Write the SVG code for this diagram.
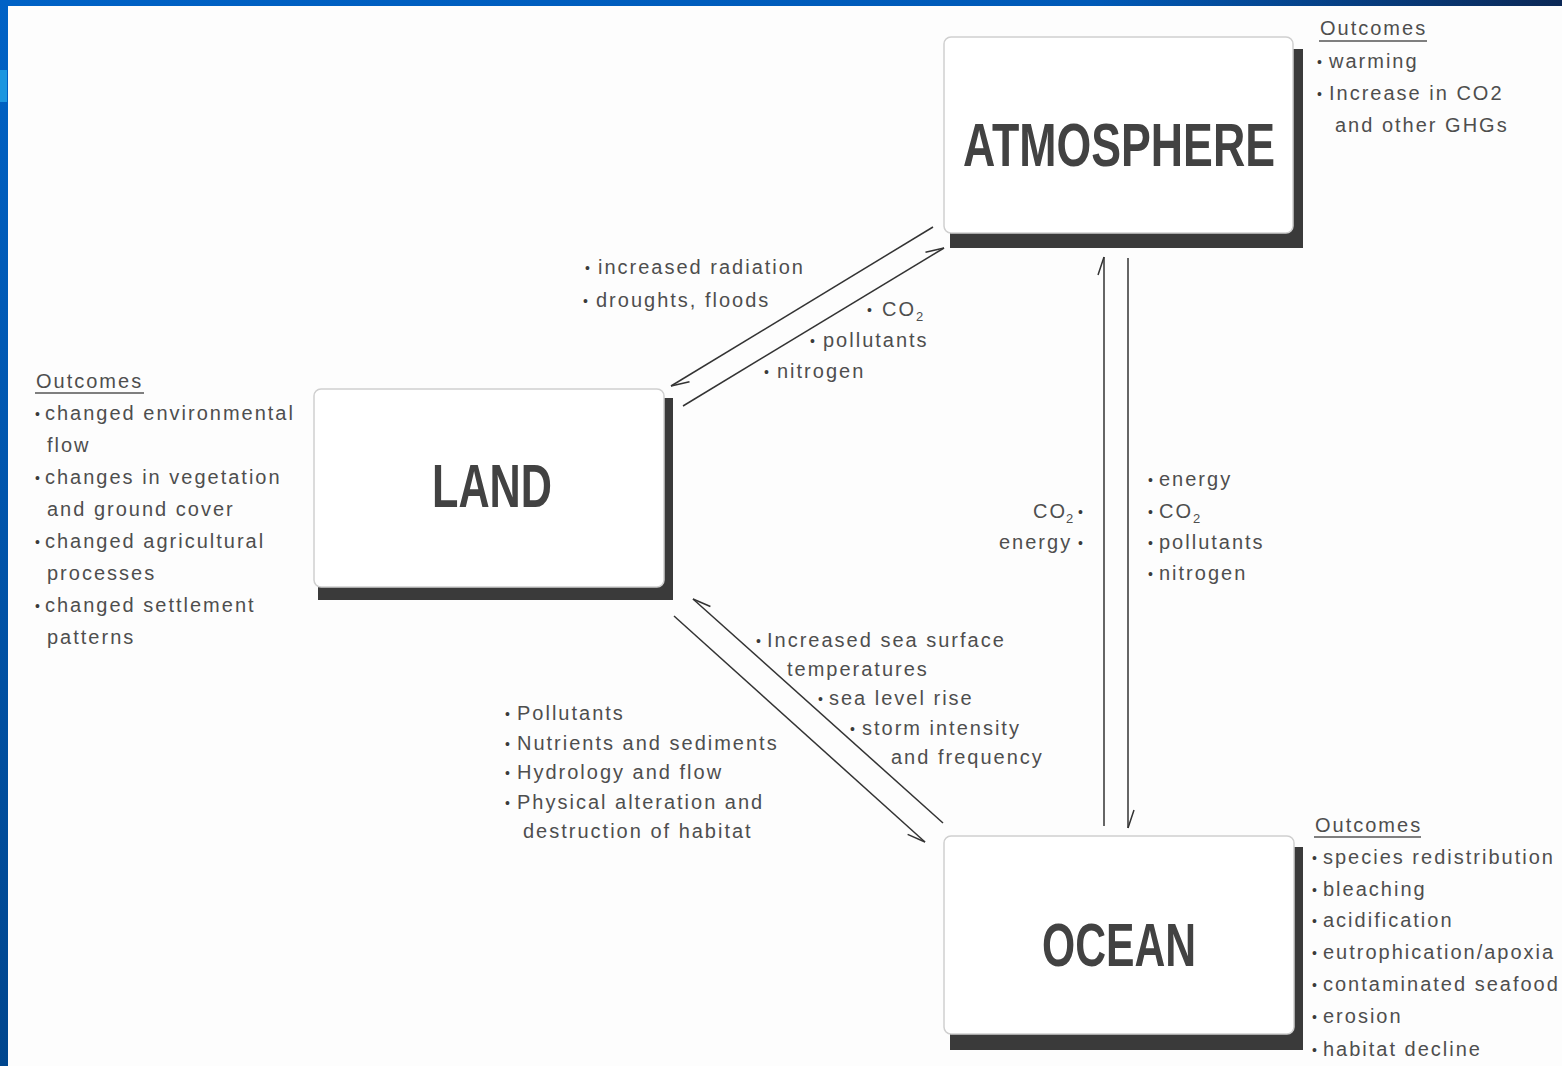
<svg xmlns="http://www.w3.org/2000/svg" width="1562" height="1066" viewBox="0 0 1562 1066">
<style>
.t{font-family:"Liberation Sans",Arial,sans-serif;font-size:20px;letter-spacing:2px;fill:#4e4e4e}
.s{font-size:13px;letter-spacing:0}
.b{font-size:14px;letter-spacing:0;fill:#3a3a3a;baseline-shift:1.5px}
.title{font-family:"Liberation Sans",Arial,sans-serif;font-size:61px;font-weight:bold;fill:#424242}
.box{fill:#ffffff;stroke:#cfcfcf;stroke-width:1.5}
.shadow{fill:#3a3a3a}
.ul{stroke:#555;stroke-width:1.6}
.c{stroke:#333;stroke-width:1.5;fill:none}
</style>
<defs>
<linearGradient id="gtop" x1="0" y1="0" x2="1" y2="0">
<stop offset="0" stop-color="#0062c6"/>
<stop offset="0.7" stop-color="#005ab8"/>
<stop offset="1" stop-color="#0b2856"/>
</linearGradient>
<linearGradient id="gleft" x1="0" y1="0" x2="0" y2="1">
<stop offset="0" stop-color="#0062c6"/>
<stop offset="1" stop-color="#00468e"/>
</linearGradient>
<marker id="hl" viewBox="-22 -10 24 20" refX="0" refY="0" markerWidth="24" markerHeight="20" markerUnits="userSpaceOnUse" orient="auto">
<path d="M0,0 L-18,-6" stroke="#333" stroke-width="1.5" fill="none"/>
</marker>
<marker id="hr" viewBox="-22 -10 24 20" refX="0" refY="0" markerWidth="24" markerHeight="20" markerUnits="userSpaceOnUse" orient="auto">
<path d="M0,0 L-18,6" stroke="#333" stroke-width="1.5" fill="none"/>
</marker>
</defs>
<rect width="1562" height="1066" fill="#fdfdfd"/>
<rect x="0" y="0" width="1562" height="6" fill="url(#gtop)"/>
<rect x="0" y="0" width="8" height="1066" fill="url(#gleft)"/>
<rect x="0" y="70" width="7" height="32" fill="#1c96e0"/>
<g id="connectors">
<path class="c" d="M933,227 L671,386" marker-end="url(#hl)"/>
<path class="c" d="M683,406 L944,248" marker-end="url(#hl)"/>
<path class="c" d="M1104,826 L1104,257" marker-end="url(#hl)"/>
<path class="c" d="M1128,258 L1128,828" marker-end="url(#hl)"/>
<path class="c" d="M943,823 L693,599" marker-end="url(#hr)"/>
<path class="c" d="M674,616 L925,842" marker-end="url(#hr)"/>
</g>
<g id="node-atmosphere">
<rect class="shadow" x="950" y="49" width="353" height="199"/>
<rect class="box" x="944" y="37" width="349" height="196" rx="7"/>
<text class="title" x="963" y="166" textLength="312" lengthAdjust="spacingAndGlyphs">ATMOSPHERE</text>
</g>
<g id="node-land">
<rect class="shadow" x="318" y="398" width="355" height="202"/>
<rect class="box" x="314" y="389" width="350" height="198" rx="7"/>
<text class="title" x="432" y="507" textLength="120" lengthAdjust="spacingAndGlyphs">LAND</text>
</g>
<g id="node-ocean">
<rect class="shadow" x="950" y="847" width="353" height="203"/>
<rect class="box" x="944" y="836" width="350" height="198" rx="7"/>
<text class="title" x="1042" y="966" textLength="154" lengthAdjust="spacingAndGlyphs">OCEAN</text>
</g>
<g id="outcomes-atmosphere">
<text class="t" x="1320" y="35">Outcomes</text>
<line class="ul" x1="1319" y1="41" x2="1427" y2="41"/>
<text class="t" y="68"><tspan class="b" x="1317">•</tspan><tspan x="1329">warming</tspan></text>
<text class="t" y="100"><tspan class="b" x="1317">•</tspan><tspan x="1329">Increase in CO2</tspan></text>
<text class="t" x="1335" y="132">and other GHGs</text>
</g>
<g id="outcomes-land">
<text class="t" x="36" y="388">Outcomes</text>
<line class="ul" x1="35" y1="393" x2="144" y2="393"/>
<text class="t" y="420"><tspan class="b" x="35">•</tspan><tspan x="45">changed environmental</tspan></text>
<text class="t" x="47" y="452">flow</text>
<text class="t" y="484"><tspan class="b" x="35">•</tspan><tspan x="45">changes in vegetation</tspan></text>
<text class="t" x="47" y="516">and ground cover</text>
<text class="t" y="548"><tspan class="b" x="35">•</tspan><tspan x="45">changed agricultural</tspan></text>
<text class="t" x="47" y="580">processes</text>
<text class="t" y="612"><tspan class="b" x="35">•</tspan><tspan x="45">changed settlement</tspan></text>
<text class="t" x="47" y="644">patterns</text>
</g>
<g id="outcomes-ocean">
<text class="t" x="1315" y="832">Outcomes</text>
<line class="ul" x1="1314" y1="837" x2="1421" y2="837"/>
<text class="t" y="864"><tspan class="b" x="1312">•</tspan><tspan x="1323">species redistribution</tspan></text>
<text class="t" y="896"><tspan class="b" x="1312">•</tspan><tspan x="1323">bleaching</tspan></text>
<text class="t" y="927"><tspan class="b" x="1312">•</tspan><tspan x="1323">acidification</tspan></text>
<text class="t" y="959"><tspan class="b" x="1312">•</tspan><tspan x="1323">eutrophication/apoxia</tspan></text>
<text class="t" y="991"><tspan class="b" x="1312">•</tspan><tspan x="1323">contaminated seafood</tspan></text>
<text class="t" y="1023"><tspan class="b" x="1312">•</tspan><tspan x="1323">erosion</tspan></text>
<text class="t" y="1056"><tspan class="b" x="1312">•</tspan><tspan x="1323">habitat decline</tspan></text>
</g>
<g id="labels-atmosphere-land">
<text class="t" y="274"><tspan class="b" x="585">•</tspan><tspan x="598">increased radiation</tspan></text>
<text class="t" y="307"><tspan class="b" x="583">•</tspan><tspan x="596">droughts, floods</tspan></text>
<text class="t" y="316"><tspan class="b" x="867">•</tspan><tspan x="882">CO</tspan><tspan class="s" dy="5">2</tspan></text>
<text class="t" y="347"><tspan class="b" x="810">•</tspan><tspan x="823">pollutants</tspan></text>
<text class="t" y="378"><tspan class="b" x="764">•</tspan><tspan x="777">nitrogen</tspan></text>
</g>
<g id="labels-atmosphere-ocean">
<text class="t" y="518"><tspan x="1033">CO</tspan><tspan class="s" x="1066" dy="5">2</tspan><tspan class="b" x="1078" dy="-5">•</tspan></text>
<text class="t" y="549"><tspan x="999">energy</tspan><tspan class="b" x="1078">•</tspan></text>
<text class="t" y="486"><tspan class="b" x="1148">•</tspan><tspan x="1159">energy</tspan></text>
<text class="t" y="518"><tspan class="b" x="1148">•</tspan><tspan x="1159">CO</tspan><tspan class="s" dy="5">2</tspan></text>
<text class="t" y="549"><tspan class="b" x="1148">•</tspan><tspan x="1159">pollutants</tspan></text>
<text class="t" y="580"><tspan class="b" x="1148">•</tspan><tspan x="1159">nitrogen</tspan></text>
</g>
<g id="labels-land-ocean">
<text class="t" y="647"><tspan class="b" x="756">•</tspan><tspan x="767">Increased sea surface</tspan></text>
<text class="t" x="787" y="676">temperatures</text>
<text class="t" y="705"><tspan class="b" x="818">•</tspan><tspan x="829">sea level rise</tspan></text>
<text class="t" y="735"><tspan class="b" x="850">•</tspan><tspan x="862">storm intensity</tspan></text>
<text class="t" x="891" y="764">and frequency</text>
<text class="t" y="720"><tspan class="b" x="505">•</tspan><tspan x="517">Pollutants</tspan></text>
<text class="t" y="750"><tspan class="b" x="505">•</tspan><tspan x="517">Nutrients and sediments</tspan></text>
<text class="t" y="779"><tspan class="b" x="505">•</tspan><tspan x="517">Hydrology and flow</tspan></text>
<text class="t" y="809"><tspan class="b" x="505">•</tspan><tspan x="517">Physical alteration and</tspan></text>
<text class="t" x="523" y="838">destruction of habitat</text>
</g>
</svg>
